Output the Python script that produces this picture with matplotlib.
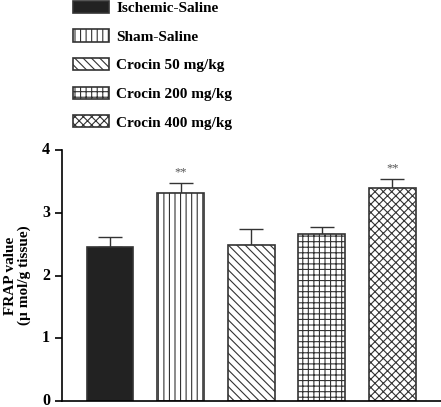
import matplotlib
matplotlib.use("Agg")
import matplotlib.pyplot as plt

groups = ["Ischemic-Saline", "Sham-Saline", "Crocin 50 mg/kg", "Crocin 200 mg/kg", "Crocin 400 mg/kg"]
frap = [2.45, 3.31, 2.48, 2.66, 3.39]
sem = [0.16, 0.16, 0.26, 0.12, 0.15]
stars = ["", "**", "", "", "**"]

plt.rcParams["font.family"] = ["Liberation Serif", "DejaVu Serif"]
plt.rcParams["font.weight"] = "bold"
plt.rcParams["hatch.linewidth"] = 0.8

fills = ["#222222", "white", "white", "white", "white"]
hatches = [None, "|||", "\\\\\\\\", "+++", "xxxx"]

fig = plt.figure(figsize=(4.41, 4.07), dpi=100)
ax = fig.add_axes([62 / 441, 6 / 407, 379 / 441, 251 / 407])

x = list(range(len(groups)))
bars = []
for i in x:
    b = ax.bar(i, frap[i], width=0.665, color=fills[i], edgecolor="#333333",
               hatch=hatches[i], linewidth=1.2, label=groups[i], zorder=2)
    bars.append(b)
    ax.errorbar(i, frap[i], yerr=[[0], [sem[i]]], fmt="none", ecolor="#333333",
                elinewidth=1.0, capsize=8.5, capthick=1.0, zorder=1)
    if stars[i]:
        ax.text(i, frap[i] + sem[i] + 0.08, stars[i], ha="center", va="bottom",
                fontsize=9, color="#555555", fontweight="normal")

ax.set_xlim(-0.68, 4.69)
ax.set_ylim(0, 4)
ax.set_yticks([0, 1, 2, 3, 4])
ax.set_xticks([])
ax.spines["top"].set_visible(False)
ax.spines["right"].set_visible(False)
ax.spines["left"].set_linewidth(1.2)
ax.spines["bottom"].set_linewidth(1.2)
ax.tick_params(axis="y", length=5, width=1.2, labelsize=11.5)
for lbl in ax.get_yticklabels():
    lbl.set_verticalalignment("center")
ax.set_ylabel("FRAP value\n(\u00b5 mol/g tissue)", fontsize=11, fontweight="bold",
              labelpad=8, linespacing=1.0)

fig.legend(handles=[b[0] for b in bars], labels=groups, loc="upper left",
           bbox_to_anchor=(72 / 441, 1.0), frameon=False, fontsize=11,
           handlelength=2.36, handleheight=0.85, labelspacing=0.93,
           handletextpad=0.5, borderpad=0.05, borderaxespad=0.0)

fig.savefig("out.png", dpi=100)
